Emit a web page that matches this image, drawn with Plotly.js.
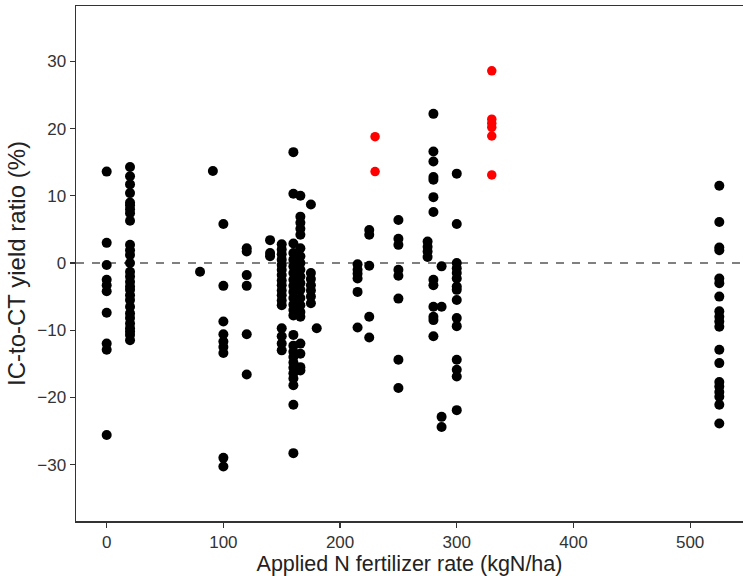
<!DOCTYPE html>
<html>
<head>
<meta charset="utf-8">
<script src="https://cdn.plot.ly/plotly-3.0.1.min.js"></script>
<style>
html, body { margin: 0; padding: 0; overflow: hidden; background: #fff; }
#chart { width: 743px; height: 576px; }
</style>
</head>
<body>
<div id="chart"></div>
<script>
// Applied N fertilizer rate (kgN/ha) for each column of black points
const blackRates = [0, 20, 80, 91, 100, 120, 140, 150, 160, 166, 175, 180, 215, 225, 250, 275, 280, 287, 300, 525];
// IC-to-CT yield ratio (%) values for each column above
const blackRatios = [
  [13.6, 3.0, -0.3, -2.5, -3.3, -4.2, -7.4, -12.0, -12.9, -25.6],
  [14.3, 12.9, 11.7, 10.4, 9.0, 8.6, 8.0, 7.4, 6.3, 2.7, 1.9, 1.2, 0, -1.3, -2.0, -2.8, -3.5, -4.0, -4.8, -5.5, -6.5, -7.5, -8.2, -9.0, -9.7, -10.2, -10.7, -11.5],
  [-1.3],
  [13.7],
  [5.8, -3.4, -8.7, -10.6, -11.7, -12.5, -13.4, -29.0, -30.3],
  [2.2, 1.7, -1.8, -3.4, -10.6, -16.6],
  [3.4, 1.5, 1.0],
  [2.8, 2.0, 1.3, 0.5, -0.3, -1.0, -1.8, -2.6, -3.3, -4.1, -4.8, -5.6, -6.3, -9.7, -10.9, -12.0, -13.0],
  [16.5, 10.3, 2.9, 1.5, 0.5, -0.5, -1.5, -2.5, -3.4, -4.3, -5.2, -6.2, -7.0, -7.8, -10.7, -12.3, -13.2, -14.0, -14.8, -15.6, -16.4, -17.2, -18.2, -21.1, -28.3],
  [10.0, 6.9, 6.0, 5.1, 4.2, 2.2, 1.0, 0.0, -1.0, -2.0, -3.0, -4.0, -5.2, -6.3, -7.3, -8.0, -12.0, -13.5, -15.5, -16.0],
  [8.7, -1.5, -2.4, -3.3, -4.1, -5.0, -6.0],
  [-9.7],
  [-0.2, -1.0, -1.6, -2.3, -4.3, -9.6],
  [4.9, 4.2, -0.4, -8.0, -11.1],
  [6.4, 3.6, 2.7, -1.0, -1.9, -5.3, -14.4, -18.6],
  [3.2, 2.4, 1.7, 0.9],
  [22.2, 16.6, 15.1, 12.8, 12.4, 9.8, 7.6, -2.5, -3.3, -6.5, -8.0, -8.5, -10.9],
  [-0.5, -6.5, -22.9, -24.4],
  [13.3, 5.8, 0, -0.8, -1.5, -2.3, -3.5, -4.0, -5.5, -8.2, -9.4, -14.4, -15.9, -16.9, -21.9],
  [11.5, 6.1, 2.3, 1.9, -2.3, -3.0, -5.0, -7.2, -8.0, -8.7, -9.5, -12.9, -14.9, -17.7, -18.4, -19.2, -19.9, -21.1, -23.9]
];
// Highlighted (red) points
const redRates = [230, 330];
const redRatios = [
  [18.8, 13.6],
  [28.6, 21.4, 20.8, 20.2, 18.9, 13.1]
];
const xTicks = [0, 100, 200, 300, 400, 500];
const yTicks = [-30, -20, -10, 0, 10, 20, 30];
const xTitle = 'Applied N fertilizer rate (kgN/ha)';
const yTitle = 'IC-to-CT yield ratio (%)';

function flatten(rates, groups) {
  const xs = [], ys = [];
  rates.forEach((r, i) => groups[i].forEach(v => { xs.push(r); ys.push(v); }));
  return {xs, ys};
}
const b = flatten(blackRates, blackRatios);
const r = flatten(redRates, redRatios);

const traces = [
  {x: b.xs, y: b.ys, type: 'scatter', mode: 'markers',
   marker: {color: '#000000', size: 10, line: {width: 0}}, hoverinfo: 'x+y'},
  {x: r.xs, y: r.ys, type: 'scatter', mode: 'markers',
   marker: {color: '#ff0000', size: 9.5, line: {width: 0}}, hoverinfo: 'x+y'}
];

const fam = 'Liberation Sans, Arial, sans-serif';
const axisFont = {family: fam, size: 17, color: '#333333'};
const layout = {
  width: 743, height: 576,
  margin: {l: 76, r: 0, t: 6, b: 55},
  paper_bgcolor: '#ffffff', plot_bgcolor: '#ffffff',
  showlegend: false,
  font: {family: fam, color: '#222'},
  xaxis: {
    range: [-26.3, 545.3], tickvals: xTicks, ticktext: xTicks.map(String),
    showgrid: false, zeroline: false,
    showline: true, linecolor: '#333', linewidth: 1.5, mirror: true,
    ticks: 'outside', ticklen: 5, tickwidth: 1.2, tickcolor: '#333',
    tickfont: axisFont,
    title: {text: xTitle, font: {family: fam, size: 21.5, color: '#222'}, standoff: 5}
  },
  yaxis: {
    range: [-38.4, 38.25], tickvals: yTicks,
    showgrid: false, zeroline: false,
    showline: true, linecolor: '#333', linewidth: 1.5,
    ticks: 'outside', ticklen: 5, tickwidth: 1.2, tickcolor: '#333',
    tickfont: axisFont,
    title: {text: yTitle, font: {family: fam, size: 24, color: '#222'}, standoff: 5}
  },
  shapes: [{
    type: 'line', xref: 'paper', x0: 0, x1: 1, yref: 'y', y0: 0, y1: 0,
    line: {color: '#808080', width: 2, dash: '8px,8px'}, layer: 'below'
  }]
};

Plotly.newPlot('chart', traces, layout, {displayModeBar: false, staticPlot: true});
</script>
</body>
</html>
